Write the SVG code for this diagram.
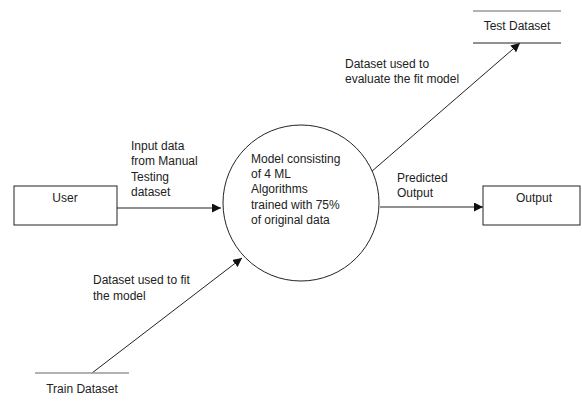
<svg xmlns="http://www.w3.org/2000/svg" width="582" height="403" viewBox="0 0 582 403">
<style>
text{font-family:"Liberation Sans",Arial,sans-serif;font-size:12px;fill:#222}
.box{fill:#fff;stroke:#222;stroke-width:1}
.ln{stroke:#222;stroke-width:1;fill:none}
.gray{stroke:#999;stroke-width:1.5}
</style>
<defs>
<marker id="ah" viewBox="0 0 10 10" refX="10" refY="5" markerWidth="9" markerHeight="9" markerUnits="userSpaceOnUse" orient="auto">
<path d="M0,0 L10,5 L0,10 z" fill="#111"/>
</marker>
</defs>
<rect width="582" height="403" fill="#fff"/>
<g id="connectors">
<line class="ln" x1="117" y1="208" x2="221" y2="208" marker-end="url(#ah)"/>
<line class="ln" x1="380" y1="207" x2="483" y2="207" marker-end="url(#ah)"/>
<line class="ln" x1="92" y1="373" x2="242" y2="258" marker-end="url(#ah)"/>
<line class="ln" x1="371" y1="172" x2="520" y2="43" marker-end="url(#ah)"/>
<text x="131" y="150">Input data</text>
<text x="131" y="165">from Manual</text>
<text x="131" y="181">Testing</text>
<text x="131" y="196">dataset</text>
<text x="93" y="284">Dataset used to fit</text>
<text x="93" y="300">the model</text>
<text x="345" y="68">Dataset used to</text>
<text x="345" y="83">evaluate the fit model</text>
<text x="397" y="182">Predicted</text>
<text x="397" y="197">Output</text>
</g>
<g id="user">
<rect class="box" x="14" y="186" width="103" height="39"/>
<text x="65" y="202" text-anchor="middle">User</text>
</g>
<g id="model">
<circle cx="301" cy="203" r="78" fill="#fff" stroke="#222" stroke-width="1"/>
<text x="251" y="163">Model consisting</text>
<text x="251" y="178">of 4 ML</text>
<text x="251" y="193">Algorithms</text>
<text x="251" y="209">trained with 75%</text>
<text x="251" y="224">of original data</text>
</g>
<g id="output">
<rect class="box" x="483" y="186" width="97" height="39"/>
<text x="534" y="202" text-anchor="middle">Output</text>
</g>
<g id="test-dataset">
<line class="gray" x1="473" y1="11" x2="561" y2="11"/>
<line class="ln" x1="473" y1="43" x2="561" y2="43"/>
<text x="517" y="30" text-anchor="middle">Test Dataset</text>
</g>
<g id="train-dataset">
<line class="gray" x1="35" y1="373" x2="129" y2="373"/>
<text x="82" y="393" text-anchor="middle">Train Dataset</text>
</g>
</svg>
